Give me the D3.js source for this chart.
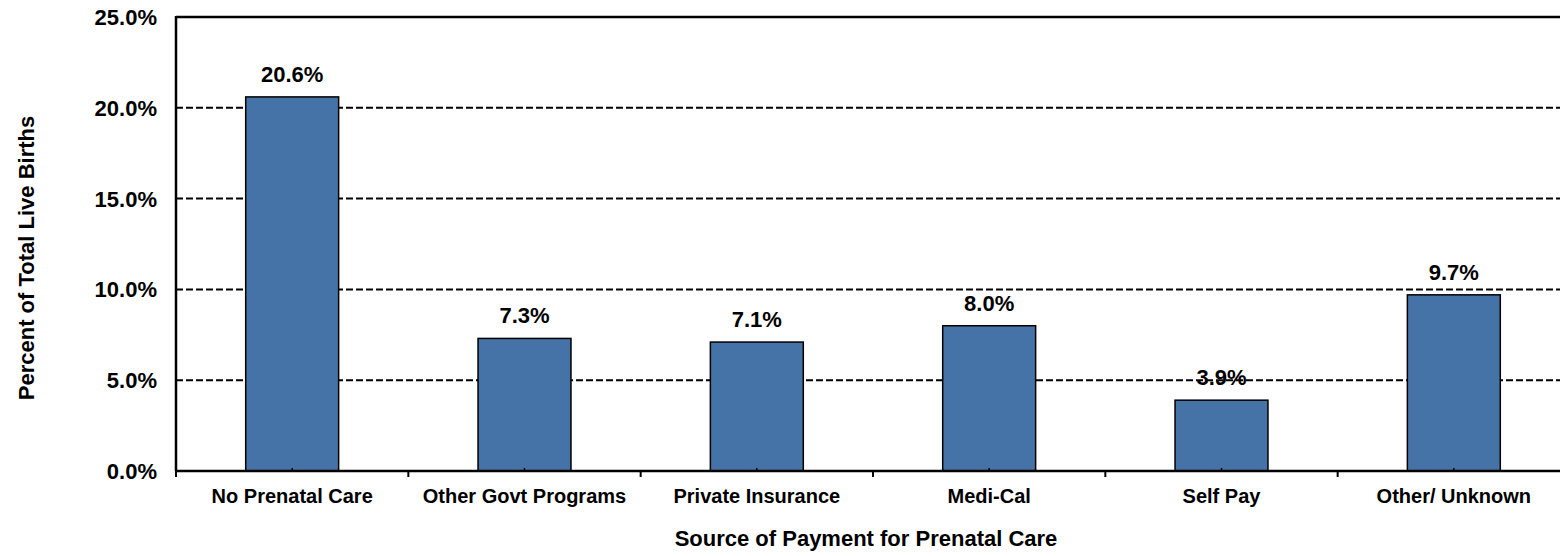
<!DOCTYPE html>
<html>
<head>
<meta charset="utf-8">
<script src="https://cdn.jsdelivr.net/npm/d3@7"></script>
<style>
  body { margin: 0; background: #fff; }
  text { font-family: "Liberation Sans", Arial, sans-serif; font-weight: bold; fill: #000; }
</style>
</head>
<body>
<script>
// chart data
var categories = ['No Prenatal Care', 'Other Govt Programs', 'Private Insurance', 'Medi-Cal', 'Self Pay', 'Other/ Unknown'];
var values = [20.6, 7.3, 7.1, 8.0, 3.9, 9.7];
var yTicks = [0, 5, 10, 15, 20, 25];

var width = 1560, height = 556;
var plotLeft = 176, plotRight = 1570, plotTop = 17, plotBottom = 471;

var svg = d3.select('body').append('svg')
  .attr('width', width)
  .attr('height', height);

var x = d3.scaleBand()
  .domain(categories)
  .range([plotLeft, plotRight])
  .paddingInner(0.6)
  .paddingOuter(0.3);

var y = d3.scaleLinear()
  .domain([0, 25])
  .range([plotBottom, plotTop]);

// dashed gridlines
svg.selectAll('line.grid')
  .data(yTicks.filter(function(d) { return d > 0 && d < 25; }))
  .enter().append('line')
  .attr('class', 'grid')
  .attr('x1', plotLeft)
  .attr('x2', plotRight)
  .attr('y1', function(d) { return y(d); })
  .attr('y2', function(d) { return y(d); })
  .attr('stroke', '#000')
  .attr('stroke-width', 2)
  .attr('stroke-dasharray', '7,3');

// top border
svg.append('line')
  .attr('x1', plotLeft).attr('x2', plotRight)
  .attr('y1', y(25)).attr('y2', y(25))
  .attr('stroke', '#000')
  .attr('stroke-width', 2.5);

// bars
svg.selectAll('rect.bar')
  .data(values)
  .enter().append('rect')
  .attr('class', 'bar')
  .attr('x', function(d, i) { return x(categories[i]); })
  .attr('y', function(d) { return y(d); })
  .attr('width', x.bandwidth())
  .attr('height', function(d) { return y(0) - y(d); })
  .attr('fill', '#4673a7')
  .attr('stroke', '#000')
  .attr('stroke-width', 1.5);

// value labels
svg.selectAll('text.val')
  .data(values)
  .enter().append('text')
  .attr('class', 'val')
  .attr('x', function(d, i) { return x(categories[i]) + x.bandwidth() / 2; })
  .attr('y', function(d) { return y(d) - 15; })
  .attr('text-anchor', 'middle')
  .attr('font-size', 22)
  .text(function(d) { return d.toFixed(1) + '%'; });

// y axis labels
svg.selectAll('text.ytick')
  .data(yTicks)
  .enter().append('text')
  .attr('class', 'ytick')
  .attr('x', 157)
  .attr('y', function(d) { return y(d) + 8; })
  .attr('text-anchor', 'end')
  .attr('font-size', 22)
  .text(function(d) { return d.toFixed(1) + '%'; });

// axis lines
svg.append('line')
  .attr('x1', plotLeft).attr('x2', plotLeft)
  .attr('y1', plotTop - 1).attr('y2', plotBottom)
  .attr('stroke', '#000').attr('stroke-width', 2.5);

svg.append('line')
  .attr('x1', plotLeft).attr('x2', plotRight)
  .attr('y1', plotBottom).attr('y2', plotBottom)
  .attr('stroke', '#000').attr('stroke-width', 2.5);

// ticks between categories (outside)
var step = x.step();
var tickPos = categories.map(function(c) { return x(c) + x.bandwidth() / 2 - step / 2; });
tickPos.push(plotRight);
svg.selectAll('line.xtick')
  .data(tickPos)
  .enter().append('line')
  .attr('class', 'xtick')
  .attr('x1', function(d) { return d; })
  .attr('x2', function(d) { return d; })
  .attr('y1', plotBottom)
  .attr('y2', plotBottom + 6)
  .attr('stroke', '#000').attr('stroke-width', 2);

// small inner ticks at category centers
svg.selectAll('line.ctick')
  .data(categories)
  .enter().append('line')
  .attr('class', 'ctick')
  .attr('x1', function(d) { return x(d) + x.bandwidth() / 2; })
  .attr('x2', function(d) { return x(d) + x.bandwidth() / 2; })
  .attr('y1', plotBottom)
  .attr('y2', plotBottom - 3)
  .attr('stroke', '#000').attr('stroke-width', 1.5);

// category labels
svg.selectAll('text.xlab')
  .data(categories)
  .enter().append('text')
  .attr('class', 'xlab')
  .attr('x', function(d) { return x(d) + x.bandwidth() / 2; })
  .attr('y', 503)
  .attr('text-anchor', 'middle')
  .attr('font-size', 20)
  .text(function(d) { return d; });

// axis titles
svg.append('text')
  .attr('x', 866)
  .attr('y', 546)
  .attr('text-anchor', 'middle')
  .attr('font-size', 22)
  .text('Source of Payment for Prenatal Care');

svg.append('text')
  .attr('transform', 'translate(34,258) rotate(-90)')
  .attr('text-anchor', 'middle')
  .attr('font-size', 22)
  .text('Percent of Total Live Births');
</script>
</body>
</html>
